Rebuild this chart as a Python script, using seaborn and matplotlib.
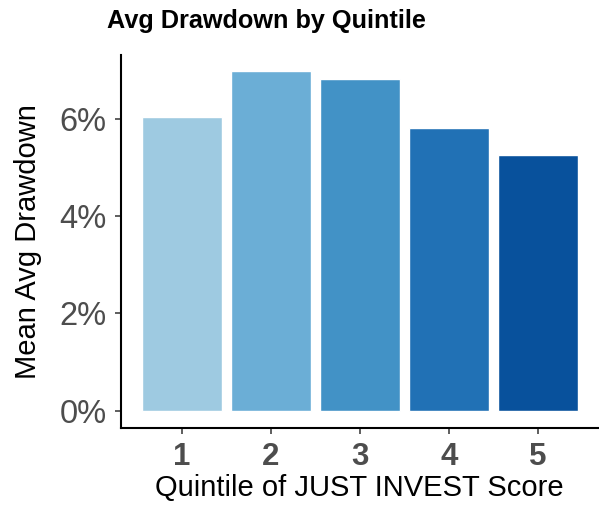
import seaborn as sns
import pandas as pd
import matplotlib
matplotlib.use("Agg")
from matplotlib import pyplot as plt
from matplotlib.ticker import PercentFormatter

# mean avg drawdown per quintile
quintiles = ["1", "2", "3", "4", "5"]
drawdown = [0.0603, 0.0698, 0.0682, 0.0581, 0.0525]
colors = ["#9ecae1", "#6baed6", "#4292c6", "#2171b5", "#08519c"]

df = pd.DataFrame({"Quintile": quintiles, "Drawdown": drawdown})

sns.set_style("ticks")
plt.rcParams["font.family"] = ["Liberation Sans", "DejaVu Sans"]

fig = plt.figure(figsize=(5.99, 5.08), dpi=100)
ax = fig.add_axes([0.202, 0.158, 0.796, 0.734])

sns.barplot(x="Quintile", y="Drawdown", hue="Quintile", data=df,
            palette=colors, legend=False, width=0.9, saturation=1, ax=ax)

ax.set_xlim(-0.685, 4.674)
ax.set_ylim(-0.0035, 0.0731)
ax.set_yticks([0, 0.02, 0.04, 0.06])
ax.yaxis.set_major_formatter(PercentFormatter(1, decimals=0))

sns.despine(ax=ax)
for s in ["left", "bottom"]:
    ax.spines[s].set_linewidth(1.5)
    ax.spines[s].set_color("black")

ax.tick_params(axis="both", length=4.5, width=1.1, color="#333333",
               labelcolor="#4d4d4d")
ax.tick_params(axis="y", labelsize=23.5, pad=6)
ax.tick_params(axis="x", labelsize=22.5, pad=6)
for lbl in ax.get_xticklabels():
    lbl.set_fontweight("bold")

ax.set_xlabel("Quintile of JUST INVEST Score", fontsize=21, color="black", labelpad=1.5)
ax.set_ylabel("Mean Avg Drawdown", fontsize=21, color="black", labelpad=12)

fig.text(107 / 599, 1 - 28 / 508, "Avg Drawdown by Quintile", color="black",
         fontsize=18.2, fontweight="bold", ha="left", va="baseline")

fig.savefig("out.png", dpi=100)
